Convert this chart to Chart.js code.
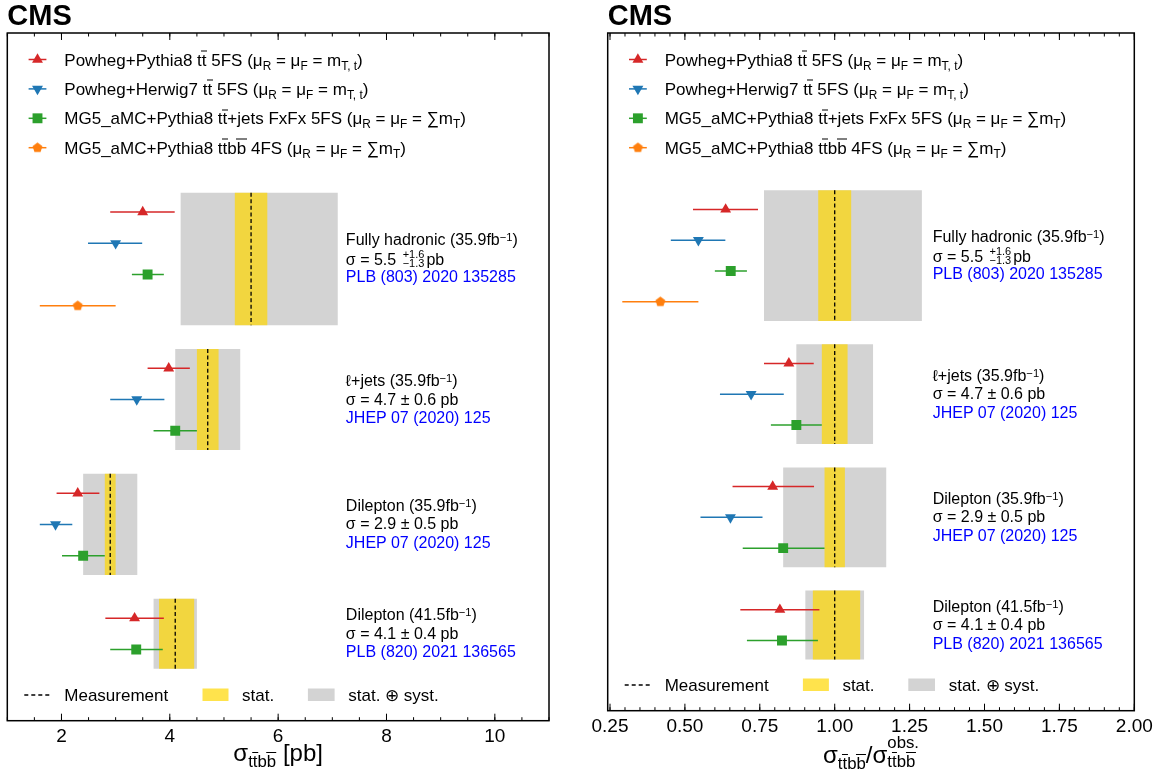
<!DOCTYPE html>
<html lang="en">

<head>
  <meta charset="UTF-8" />
  <title>ttbb cross section summary</title>
  <script src="https://cdn.jsdelivr.net/npm/chart.js@4.4.1/dist/chart.umd.min.js"></script>
  <style>
    body { margin: 0; background: #fff; }
    #wrap { position: relative; width: 1163px; height: 775px; overflow: hidden;
      font-family: "Liberation Sans", Arial, Helvetica, sans-serif; color: #000; }
    canvas { position: absolute; top: 0; }
    .txt { position: absolute; white-space: nowrap; }
    .cms { font-size: 29px; font-weight: bold; line-height: 29px; }
    .leg { font-size: 17px; line-height: 21px; transform: translateY(-50%); }
    .bot { font-size: 17px; }
    .ann { font-size: 16px; transform: translateY(-50%); }
    .ann div { height: 18.5px; line-height: 18.5px; }
    .ref { color: #0000ff; }
    .xt { font-size: 24px; line-height: 24px; transform: translateX(-50%); }
    .ol { position: relative; }
    .ol::before { content: ""; position: absolute; left: -0.03em; right: -0.03em; top: 0.02em;
      border-top: 1.2px solid currentColor; }
    sub { font-size: 70%; line-height: 0; vertical-align: -0.35em; }
    sup { font-size: 70%; line-height: 0; vertical-align: 0.42em; }
    .pm { display: inline-block; font-size: 11px; line-height: 9px; vertical-align: -2.5px; margin: 0 2px; }
    .pm span { display: block; }
    .stk { display: inline-block; font-size: 70%; line-height: 19px; vertical-align: top;
      position: relative; top: -10px; }
    .stk .l { display: block; }
  </style>
</head>

<body>
  <div id="wrap">
    <canvas id="left" width="580" height="775" style="left:0"></canvas>
    <canvas id="right" width="583" height="775" style="left:580px"></canvas>
  </div>

  <script>
    // ---- labels ----
    const TT = 't<span class="ol">t</span>';
    const BB = 'b<span class="ol">b</span>';
    const modelLabels = [
      'Powheg+Pythia8 ' + TT + ' 5FS (μ<sub>R</sub> = μ<sub>F</sub> = m<sub>T, t</sub>)',
      'Powheg+Herwig7 ' + TT + ' 5FS (μ<sub>R</sub> = μ<sub>F</sub> = m<sub>T, t</sub>)',
      'MG5_aMC+Pythia8 ' + TT + '+jets FxFx 5FS (μ<sub>R</sub> = μ<sub>F</sub> = ∑m<sub>T</sub>)',
      'MG5_aMC+Pythia8 ' + TT + BB + ' 4FS (μ<sub>R</sub> = μ<sub>F</sub> = ∑m<sub>T</sub>)'
    ];
    const modelColors = ['#d62728', '#1f77b4', '#2ca02c', '#ff7f0e'];

    const measNames = ['Fully hadronic', 'ℓ+jets', 'Dilepton', 'Dilepton'];
    const measLumi = ['35.9', '35.9', '35.9', '41.5'];
    const measSigma = [
      'σ = 5.5 <span class="pm"><span>+1.6</span><span>−1.3</span></span>pb',
      'σ = 4.7 ± 0.6 pb',
      'σ = 2.9 ± 0.5 pb',
      'σ = 4.1 ± 0.4 pb'
    ];
    const measRefs = ['PLB (803) 2020 135285', 'JHEP 07 (2020) 125', 'JHEP 07 (2020) 125', 'PLB (820) 2021 136565'];
    const bottomLabels = ['Measurement', 'stat.', 'stat. ⊕ syst.'];

    // rows used by each measurement block (first, last)
    const blockRows = [[0, 3], [5, 7], [9, 11], [13, 14]];
    const rowMin = -5.73, rowMax = 16.28;

    // measured cross sections [pb]
    const measXsec = [5.5, 4.7, 2.9, 4.1];
    const totLoXsec = [4.2, 4.1, 2.4, 3.7];
    const totHiXsec = [7.1, 5.3, 3.4, 4.5];
    const statLoXsec = [5.2, 4.5, 2.8, 3.8];
    const statHiXsec = [5.8, 4.9, 3.0, 4.45];

    // same, as ratio to the measurement
    const measRatio = [1, 1, 1, 1];
    const totLoRatio = [0.764, 0.872, 0.828, 0.902];
    const totHiRatio = [1.291, 1.128, 1.172, 1.098];
    const statLoRatio = [0.945, 0.957, 0.966, 0.927];
    const statHiRatio = [1.055, 1.043, 1.034, 1.085];

    // predictions
    const powPyRows = [0, 5, 9, 13];
    const powPyXsec = [3.50, 3.98, 2.30, 3.35];
    const powPyXsecLo = [2.90, 3.59, 1.91, 2.81];
    const powPyXsecHi = [4.09, 4.37, 2.70, 3.89];
    const powPyRatio = [0.636, 0.847, 0.793, 0.817];
    const powPyRatioLo = [0.527, 0.764, 0.659, 0.685];
    const powPyRatioHi = [0.744, 0.930, 0.931, 0.949];

    const powHwRows = [1, 6, 10];
    const powHwXsec = [3.00, 3.39, 1.89];
    const powHwXsecLo = [2.49, 2.90, 1.60];
    const powHwXsecHi = [3.49, 3.90, 2.20];
    const powHwRatio = [0.545, 0.721, 0.652];
    const powHwRatioLo = [0.453, 0.617, 0.552];
    const powHwRatioHi = [0.635, 0.830, 0.759];

    const fxfxRows = [2, 7, 11, 14];
    const fxfxXsec = [3.59, 4.10, 2.40, 3.38];
    const fxfxXsecLo = [3.30, 3.70, 2.01, 2.90];
    const fxfxXsecHi = [3.89, 4.50, 2.80, 3.87];
    const fxfxRatio = [0.653, 0.872, 0.828, 0.824];
    const fxfxRatioLo = [0.600, 0.787, 0.693, 0.707];
    const fxfxRatioHi = [0.707, 0.957, 0.966, 0.944];

    const ttbbRows = [3];
    const ttbbXsec = [2.30];
    const ttbbXsecLo = [1.60];
    const ttbbXsecHi = [3.00];
    const ttbbRatio = [0.418];
    const ttbbRatioLo = [0.291];
    const ttbbRatioHi = [0.545];

    const xsecTicks = [2, 4, 6, 8, 10];
    const ratioTicks = [0.25, 0.5, 0.75, 1.0, 1.25, 1.5, 1.75, 2.0];
  </script>

  <script>
    Chart.defaults.font.family = '"Liberation Sans", Arial, Helvetica, sans-serif';
    Chart.defaults.color = '#000';

    function pentagon(color, r) {
      const c = document.createElement('canvas');
      const s = Math.ceil(2 * r + 4);
      c.width = c.height = s;
      const g = c.getContext('2d');
      g.beginPath();
      for (let i = 0; i < 5; i++) {
        const a = -Math.PI / 2 + i * 2 * Math.PI / 5;
        g.lineTo(s / 2 + r * Math.cos(a), s / 2 + r * Math.sin(a));
      }
      g.closePath();
      g.fillStyle = color;
      g.fill();
      return c;
    }

    const modelStyles = ['triangle', 'triangle', 'rect', pentagon(modelColors[3], 5.2)];
    const modelRotations = [0, 180, 0, 0];
    const modelRadii = [6.3, 6.3, 7, 5.2];
    const boxPad = 0.62;
    const goldA = 'rgba(255,215,0,0.7)';

    function rectSet(lo, hi, y0, y1, color, order) {
      return {
        data: [{ x: lo, y: y0 }, { x: hi, y: y0 }, { x: hi, y: y1 }, { x: lo, y: y1 }, { x: lo, y: y0 }],
        fill: 'shape', backgroundColor: color, borderColor: 'rgba(0,0,0,0)', borderWidth: 0,
        pointRadius: 0, tension: 0, order: order
      };
    }

    function buildDatasets(p) {
      const ds = [];
      blockRows.forEach((b, i) => {
        const y0 = b[0] - boxPad, y1 = b[1] + boxPad;
        ds.push(rectSet(p.totLo[i], p.totHi[i], y0, y1, '#d3d3d3', 5));
        ds.push(rectSet(p.statLo[i], p.statHi[i], y0, y1, goldA, 4));
        ds.push({
          data: [{ x: p.meas[i], y: y0 }, { x: p.meas[i], y: y1 }],
          borderColor: '#000', borderWidth: 1.3, borderDash: [4, 2.6], pointRadius: 0, order: 3
        });
      });
      p.models.forEach((m, k) => {
        const [rows, c, lo, hi] = m;
        rows.forEach((r, i) => {
          ds.push({
            data: [{ x: lo[i], y: r }, { x: hi[i], y: r }],
            borderColor: modelColors[k], borderWidth: 1.5, pointRadius: 0, order: 2
          });
        });
        ds.push({
          data: rows.map((r, i) => ({ x: c[i], y: r })),
          showLine: false,
          pointStyle: modelStyles[k], pointRotation: modelRotations[k], pointRadius: modelRadii[k],
          pointBackgroundColor: modelColors[k], backgroundColor: modelColors[k],
          pointBorderColor: modelColors[k], pointBorderWidth: 0, order: 1
        });
      });
      return ds;
    }

    // frame, inward ticks and legend symbols
    const framePlugin = {
      id: 'frame',
      afterDraw(chart, args, opts) {
        const ctx = chart.ctx, a = chart.chartArea, x = chart.scales.x;
        ctx.save();
        // top legend symbols
        modelColors.forEach((col, k) => {
          const y = a.top + 26.5 + 29.4 * k;
          ctx.strokeStyle = col;
          ctx.lineWidth = 1.5;
          ctx.beginPath();
          ctx.moveTo(a.left + 21.3, y);
          ctx.lineTo(a.left + 39.1, y);
          ctx.stroke();
          ctx.fillStyle = col;
          Chart.helpers.drawPoint(ctx, {
            pointStyle: modelStyles[k], rotation: modelRotations[k], radius: modelRadii[k], borderWidth: 0
          }, a.left + 30.2, y);
        });
        // bottom legend symbols
        const yb = a.bottom - 25.7;
        ctx.strokeStyle = '#000';
        ctx.lineWidth = 1.3;
        ctx.setLineDash([4, 3]);
        ctx.beginPath();
        ctx.moveTo(a.left + 17, yb);
        ctx.lineTo(a.left + 42, yb);
        ctx.stroke();
        ctx.setLineDash([]);
        ctx.fillStyle = goldA;
        ctx.fillRect(a.left + 195.2, yb - 6.5, 26, 12.5);
        ctx.fillStyle = '#d3d3d3';
        ctx.fillRect(a.left + 300.6, yb - 6.5, 26.7, 12.5);
        // ticks
        ctx.strokeStyle = '#000';
        ctx.lineWidth = 1;
        const tick = (v, len) => {
          const px = x.getPixelForValue(v);
          ctx.beginPath();
          ctx.moveTo(px, a.bottom);
          ctx.lineTo(px, a.bottom - len);
          ctx.moveTo(px, a.top);
          ctx.lineTo(px, a.top + len);
          ctx.stroke();
        };
        opts.major.forEach(v => tick(v, 7));
        const n0 = Math.ceil(x.min / opts.minor - 1e-9), n1 = Math.floor(x.max / opts.minor + 1e-9);
        for (let n = n0; n <= n1; n++) tick(n * opts.minor, 3.5);
        ctx.lineWidth = 1.5;
        ctx.strokeRect(a.left, a.top, a.right - a.left, a.bottom - a.top);
        ctx.restore();
      }
    };

    const panels = [
      {
        id: 'left', offset: 0, xMin: 1, xMax: 11, ticks: xsecTicks, minor: 0.5, decimals: 0,
        padding: { left: 7.3, right: 31, top: 33, bottom: 24.3 }, noteX: 7.25, titleTop: 740.7,
        title: 'σ<sub>' + TT + BB + '</sub> [pb]',
        meas: measXsec, totLo: totLoXsec, totHi: totHiXsec, statLo: statLoXsec, statHi: statHiXsec,
        models: [
          [powPyRows, powPyXsec, powPyXsecLo, powPyXsecHi],
          [powHwRows, powHwXsec, powHwXsecLo, powHwXsecHi],
          [fxfxRows, fxfxXsec, fxfxXsecLo, fxfxXsecHi],
          [ttbbRows, ttbbXsec, ttbbXsecLo, ttbbXsecHi]
        ]
      },
      {
        id: 'right', offset: 580, xMin: 0.2423, xMax: 2.0, ticks: ratioTicks, minor: 0.05, decimals: 2,
        padding: { left: 27.7, right: 28.7, top: 33, bottom: 34.3 }, noteX: 1.327, titleTop: 742.7,
        title: 'σ<sub>' + TT + BB + '</sub>/σ<span class="stk"><span class="l">obs.</span><span class="l">' + TT + BB + '</span></span>',
        meas: measRatio, totLo: totLoRatio, totHi: totHiRatio, statLo: statLoRatio, statHi: statHiRatio,
        models: [
          [powPyRows, powPyRatio, powPyRatioLo, powPyRatioHi],
          [powHwRows, powHwRatio, powHwRatioLo, powHwRatioHi],
          [fxfxRows, fxfxRatio, fxfxRatioLo, fxfxRatioHi],
          [ttbbRows, ttbbRatio, ttbbRatioLo, ttbbRatioHi]
        ]
      }
    ];

    const wrap = document.getElementById('wrap');
    function addText(html, x, y, cls) {
      const d = document.createElement('div');
      d.className = 'txt ' + cls;
      d.innerHTML = html;
      d.style.left = x + 'px';
      d.style.top = y + 'px';
      wrap.appendChild(d);
      return d;
    }

    panels.forEach(p => {
      const chart = new Chart(document.getElementById(p.id).getContext('2d'), {
        type: 'line',
        data: { datasets: buildDatasets(p) },
        options: {
          responsive: false,
          animation: false,
          events: [],
          layout: { padding: p.padding },
          scales: {
            x: {
              type: 'linear', min: p.xMin, max: p.xMax,
              grid: { display: false, drawTicks: false },
              border: { display: false },
              afterBuildTicks: (scale) => { scale.ticks = p.ticks.map(v => ({ value: v })); },
              afterFit: (scale) => { scale.height = 30; },
              ticks: {
                autoSkip: false, maxRotation: 0, padding: 5,
                font: { size: 19 }, color: '#000',
                callback: (v) => Number(v).toFixed(p.decimals)
              }
            },
            y: { type: 'linear', reverse: true, min: rowMin, max: rowMax, display: false }
          },
          plugins: {
            legend: { display: false },
            tooltip: { enabled: false },
            frame: { major: p.ticks, minor: p.minor }
          }
        },
        plugins: [framePlugin]
      });

      const a = chart.chartArea;
      const L = p.offset + a.left;
      addText('CMS', L, 1, 'cms');
      modelLabels.forEach((lab, k) => addText(lab, L + 57, a.top + 26.5 + 29.4 * k, 'leg'));
      const yb = a.bottom - 25.7;
      addText(bottomLabels[0], L + 57, yb, 'leg bot');
      addText(bottomLabels[1], L + 234.7, yb, 'leg bot');
      addText(bottomLabels[2], L + 341, yb, 'leg bot');

      const nx = p.offset + chart.scales.x.getPixelForValue(p.noteX);
      blockRows.forEach((b, i) => {
        const yc = chart.scales.y.getPixelForValue((b[0] + b[1]) / 2) + 0.5;
        addText('<div>' + measNames[i] + ' (' + measLumi[i] + 'fb<sup>−1</sup>)</div>' +
          '<div>' + measSigma[i] + '</div>' +
          '<div class="ref">' + measRefs[i] + '</div>', nx, yc, 'ann');
      });

      addText(p.title, p.offset + (a.left + a.right) / 2, p.titleTop, 'xt');
    });
  </script>
</body>

</html>
